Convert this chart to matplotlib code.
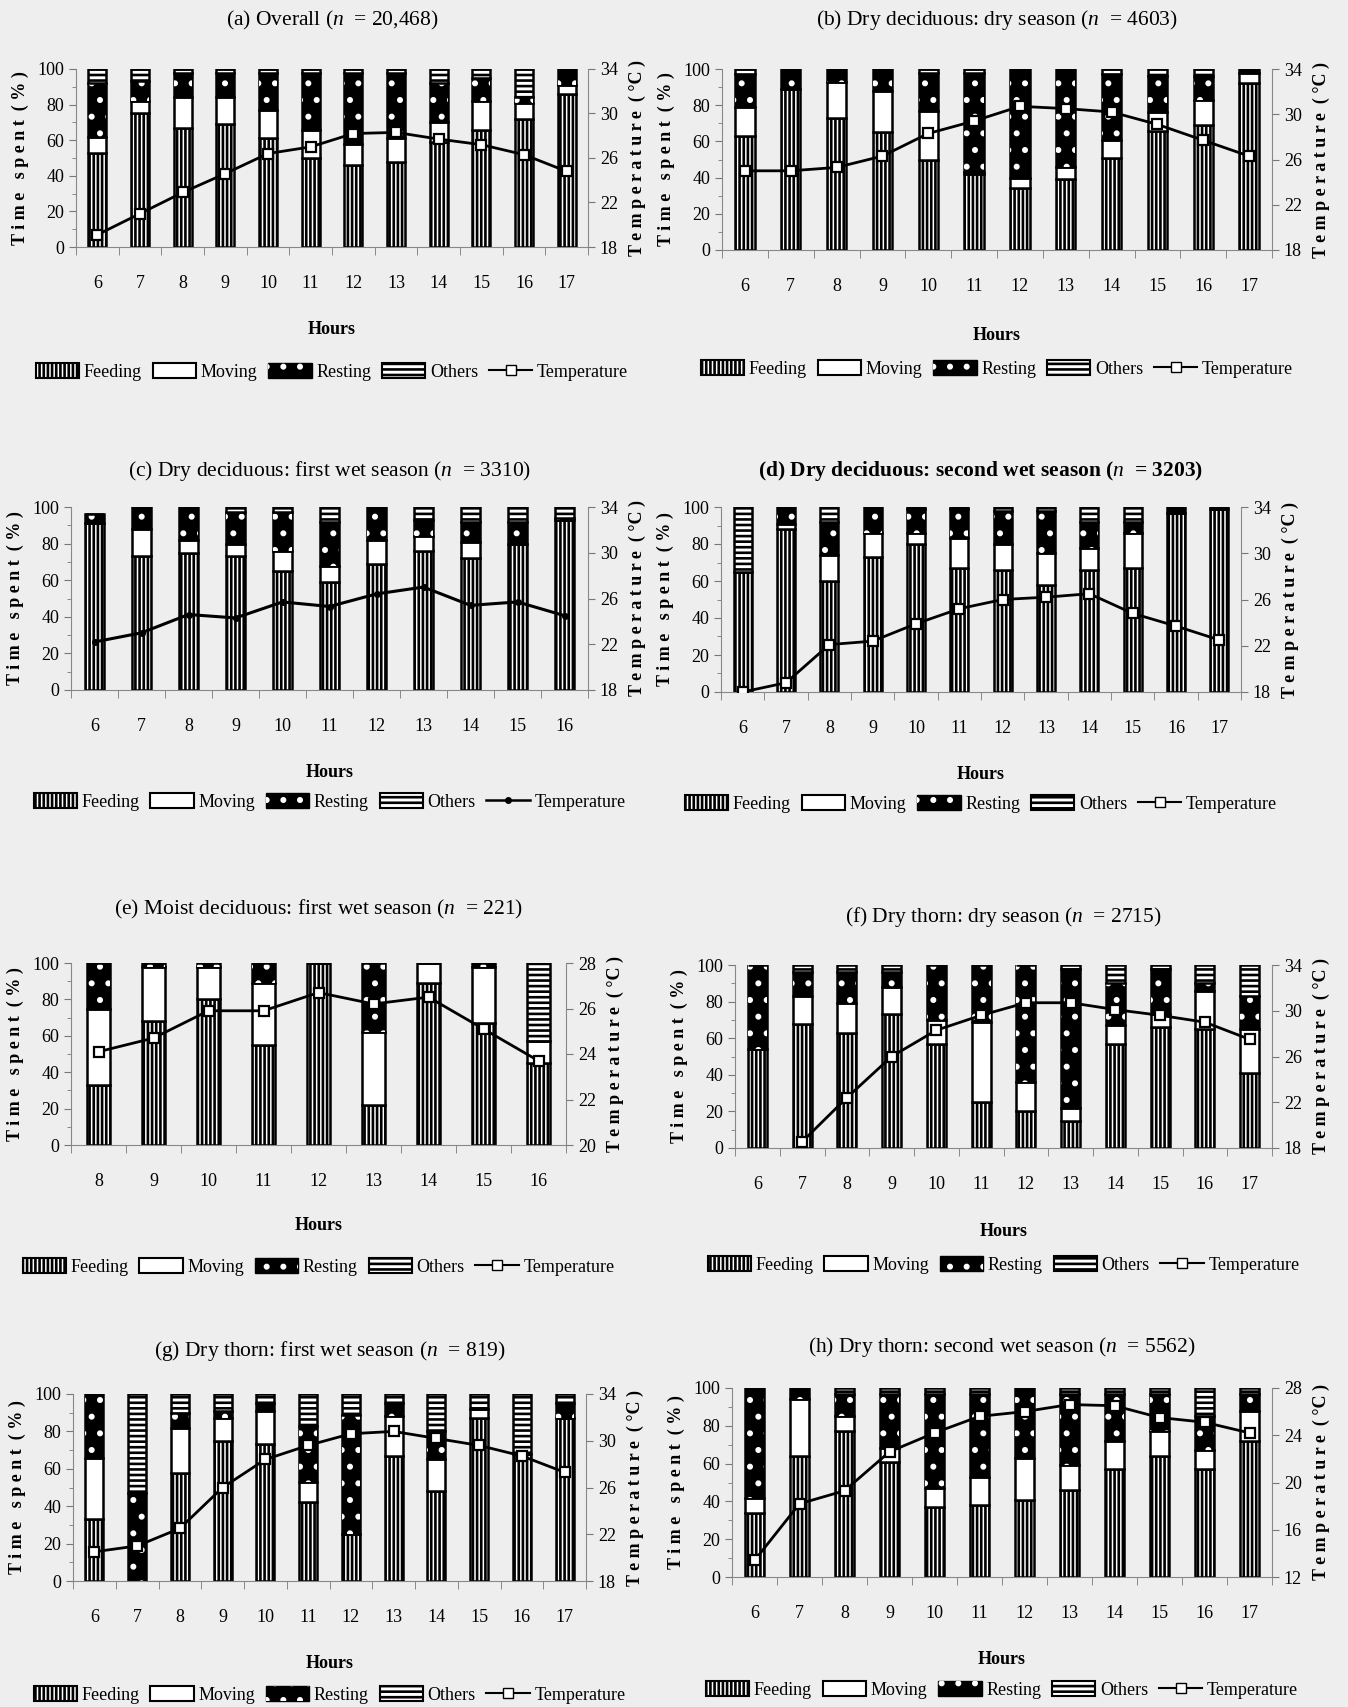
import numpy as np
import matplotlib
matplotlib.use('Agg')
import matplotlib.pyplot as plt
from matplotlib.patches import Patch
from matplotlib.lines import Line2D

plt.rcParams['font.family'] = ['Liberation Serif', 'DejaVu Serif']
plt.rcParams['mathtext.fontset'] = 'custom'
plt.rcParams['mathtext.it'] = 'Liberation Serif:italic'
plt.rcParams['mathtext.rm'] = 'Liberation Serif'
plt.rcParams['hatch.linewidth'] = 1.9

# ---- data (percent of time; temperature in deg C) ----
a_hours = [6, 7, 8, 9, 10, 11, 12, 13, 14, 15, 16, 17]
a_feed = [53, 75, 67, 69, 61, 50, 46, 48, 59, 66, 72, 86]
a_move = [9, 7, 17, 15, 16, 16, 12, 13, 11, 16, 9, 5]
a_rest = [30, 11, 14, 14, 21, 32, 40, 37, 22, 13, 3, 9]
a_other = [8, 7, 2, 2, 2, 2, 2, 2, 8, 5, 16, 0]
a_temp = [19.1, 21.0, 22.9, 24.6, 26.4, 27.0, 28.2, 28.3, 27.7, 27.2, 26.3, 24.8]

b_hours = [6, 7, 8, 9, 10, 11, 12, 13, 14, 15, 16, 17]
b_feed = [63, 89, 73, 65, 50, 42, 34, 39, 51, 66, 69, 92]
b_move = [16, 0, 20, 23, 27, 1, 6, 7, 10, 10, 14, 6]
b_rest = [18, 11, 7, 12, 21, 55, 60, 54, 36, 20, 13, 2]
b_other = [3, 0, 0, 0, 2, 2, 0, 0, 3, 4, 4, 0]
b_temp = [25.0, 25.0, 25.3, 26.3, 28.3, 29.4, 30.7, 30.5, 30.2, 29.1, 27.7, 26.3]

c_hours = [6, 7, 8, 9, 10, 11, 12, 13, 14, 15, 16]
c_feed = [91, 73, 75, 73, 65, 59, 69, 76, 72, 80, 93]
c_move = [0, 15, 7, 7, 11, 9, 13, 8, 9, 0, 0]
c_rest = [5, 12, 18, 17, 21, 24, 18, 9, 11, 12, 1]
c_other = [0, 0, 0, 3, 3, 8, 0, 7, 8, 8, 6]
c_temp = [22.2, 23.0, 24.6, 24.3, 25.7, 25.3, 26.4, 27.0, 25.4, 25.7, 24.5]

d_hours = [6, 7, 8, 9, 10, 11, 12, 13, 14, 15, 16, 17]
d_feed = [65, 88, 60, 73, 80, 67, 66, 58, 66, 67, 97, 99]
d_move = [0, 3, 14, 13, 6, 16, 14, 17, 12, 19, 0, 0]
d_rest = [0, 9, 18, 14, 13, 16, 18, 23, 14, 6, 3, 1]
d_other = [35, 0, 8, 0, 1, 1, 2, 2, 8, 8, 0, 0]
d_temp = [18.0, 18.8, 22.1, 22.4, 23.9, 25.2, 26.0, 26.2, 26.5, 24.8, 23.7, 22.5]

e_hours = [8, 9, 10, 11, 12, 13, 14, 15, 16]
e_feed = [33, 68, 80, 55, 100, 22, 89, 67, 45]
e_move = [42, 30, 18, 34, 0, 40, 11, 31, 12]
e_rest = [25, 2, 2, 11, 0, 38, 0, 2, 0]
e_other = [0, 0, 0, 0, 0, 0, 0, 0, 43]
e_temp = [24.1, 24.7, 25.9, 25.9, 26.7, 26.2, 26.5, 25.1, 23.7]

f_hours = [6, 7, 8, 9, 10, 11, 12, 13, 14, 15, 16, 17]
f_feed = [54, 68, 63, 73, 57, 25, 20, 15, 57, 66, 65, 41]
f_move = [0, 15, 16, 15, 13, 44, 16, 7, 10, 7, 21, 24]
f_rest = [46, 13, 17, 8, 30, 31, 64, 76, 23, 25, 4, 18]
f_other = [0, 4, 4, 4, 0, 0, 0, 2, 10, 2, 10, 17]
f_temp = [np.nan, 18.55, 22.4, 26.0, 28.3, 29.6, 30.7, 30.7, 30.1, 29.6, 29.0, 27.5]

g_hours = [6, 7, 8, 9, 10, 11, 12, 13, 14, 15, 16, 17]
g_feed = [33, 0, 58, 75, 73, 42, 25, 67, 48, 87, 68, 87]
g_move = [33, 0, 24, 12, 18, 11, 0, 21, 17, 5, 0, 0]
g_rest = [34, 47, 8, 4, 4, 30, 64, 7, 15, 0, 0, 8]
g_other = [0, 53, 10, 9, 5, 17, 11, 5, 20, 8, 32, 5]
g_temp = [20.5, 21.0, 22.5, 26.0, 28.4, 29.6, 30.6, 30.8, 30.2, 29.6, 28.7, 27.3]

h_hours = [6, 7, 8, 9, 10, 11, 12, 13, 14, 15, 16, 17]
h_feed = [34, 64, 77, 61, 37, 38, 41, 46, 57, 64, 57, 72]
h_move = [8, 30, 8, 7, 10, 15, 22, 13, 15, 13, 10, 16]
h_rest = [58, 6, 12, 29, 50, 44, 37, 38, 25, 20, 18, 9]
h_other = [0, 0, 3, 3, 3, 3, 0, 3, 3, 3, 15, 3]
h_temp = [13.4, 18.2, 19.3, 22.6, 24.2, 25.6, 26.0, 26.6, 26.5, 25.5, 25.1, 24.2]

titles = [
    '(a) Overall ($n$  = 20,468)',
    '(b) Dry deciduous: dry season ($n$  = 4603)',
    '(c) Dry deciduous: first wet season ($n$  = 3310)',
    '(d) Dry deciduous: second wet season ($n$  = 3203)',
    '(e) Moist deciduous: first wet season ($n$  = 221)',
    '(f) Dry thorn: dry season ($n$  = 2715)',
    '(g) Dry thorn: first wet season ($n$  = 819)',
    '(h) Dry thorn: second wet season ($n$  = 5562)',
]

# pixel layout: left, right, top, bottom, title y, hours y, legend y
W, H = 1348, 1707
boxes = [
    (76, 588, 69, 247, 20, 330, 372),
    (722, 1272, 69, 250, 20, 335, 369),
    (71, 588, 507, 690, 471, 773, 802),
    (721, 1241, 507, 692, 471, 775, 804),
    (71, 566, 963, 1145, 909, 1225, 1267),
    (735, 1272, 965, 1148, 917, 1231, 1265),
    (73, 586, 1394, 1581, 1351, 1663, 1695),
    (732, 1272, 1388, 1577, 1347, 1660, 1690),
]

panels = [
    (a_hours, a_feed, a_move, a_rest, a_other, a_temp, (18, 34, 4)),
    (b_hours, b_feed, b_move, b_rest, b_other, b_temp, (18, 34, 4)),
    (c_hours, c_feed, c_move, c_rest, c_other, c_temp, (18, 34, 4)),
    (d_hours, d_feed, d_move, d_rest, d_other, d_temp, (18, 34, 4)),
    (e_hours, e_feed, e_move, e_rest, e_other, e_temp, (20, 28, 2)),
    (f_hours, f_feed, f_move, f_rest, f_other, f_temp, (18, 34, 4)),
    (g_hours, g_feed, g_move, g_rest, g_other, g_temp, (18, 34, 4)),
    (h_hours, h_feed, h_move, h_rest, h_other, h_temp, (12, 28, 4)),
]

fig = plt.figure(figsize=(W / 100, H / 100), dpi=100, facecolor='#eeeeee')

for i, (title, box, panel) in enumerate(zip(titles, boxes, panels)):
    L, R, T, B, ty, hy, ly = box
    hours, feed, move, rest, other, temp, trange = panel
    feed = np.array(feed, float)
    move = np.array(move, float)
    rest = np.array(rest, float)
    other = np.array(other, float)
    dot = (i == 2)

    ax = fig.add_axes([L / W, 1 - B / H, (R - L) / W, (B - T) / H])
    ax.set_facecolor('none')
    x = np.arange(len(hours))
    w = 0.42
    ax.bar(x, feed, w, color='white', edgecolor='black', hatch='||||', lw=1.8)
    ax.bar(x, move, w, bottom=feed, color='white', edgecolor='black', lw=1.8)
    b2 = feed + move
    ax.bar(x, rest, w, bottom=b2, color='black', edgecolor='black', lw=1.8)
    ax.bar(x, rest, w, bottom=b2, color='none', edgecolor='white', hatch='.', lw=0)
    b3 = b2 + rest
    ax.bar(x, other, w, bottom=b3, color='white', edgecolor='black', hatch='---', lw=1.8)

    ax.set_xlim(-0.5, len(hours) - 0.5)
    ax.set_ylim(0, 100)
    ax.set_xticks(x)
    ax.set_xticklabels([str(h) for h in hours], fontsize=13)
    ax.set_xticks(np.arange(-0.5, len(hours)), minor=True)
    ax.tick_params(axis='x', which='major', length=0, pad=20)
    ax.tick_params(axis='x', which='minor', length=6, direction='out', color='#777777')
    ax.set_yticks(np.arange(0, 101, 20))
    ax.set_yticks(np.arange(0, 101, 10), minor=True)
    ax.tick_params(axis='y', which='major', labelsize=13, length=5, color='#777777')
    ax.tick_params(axis='y', which='minor', length=3, color='#777777')
    ax.set_ylabel('T i m e   s p e n t  ( % )', fontsize=13, fontweight='bold', labelpad=6)
    for s in ['top', 'right']:
        ax.spines[s].set_visible(False)
    for s in ['left', 'bottom']:
        ax.spines[s].set_color('#888888')

    ax2 = ax.twinx()
    if dot:
        ax2.plot(x, temp, color='black', lw=2.2, marker='o', ms=4)
    else:
        ax2.plot(x, temp, color='black', lw=2.0, marker='s', ms=7.5,
                 mfc='white', mec='black', mew=1.6)
    t0, t1, ts = trange
    ax2.set_ylim(t0, t1)
    ax2.set_yticks(np.arange(t0, t1 + 0.1, ts))
    ax2.tick_params(axis='y', labelsize=13, length=5, color='#777777')
    ax2.set_ylabel('T e m p e r a t u r e  ( °C )', fontsize=13, fontweight='bold', labelpad=8)
    for s in ['top', 'left', 'bottom']:
        ax2.spines[s].set_visible(False)
    ax2.spines['right'].set_color('#888888')

    cx = (L + R) / 2 / W
    fig.text(cx, 1 - ty / H, title, ha='center', va='center', fontsize=15.5,
             fontweight='bold' if i == 3 else 'normal')
    fig.text(cx, 1 - hy / H, 'Hours', ha='center', va='center', fontsize=13, fontweight='bold')

    feed_h = Patch(facecolor='white', edgecolor='black', hatch='||||', lw=1.5)
    move_h = Patch(facecolor='white', edgecolor='black', lw=1.5)
    rest_h = (Patch(facecolor='black', edgecolor='black'),
              Patch(facecolor='none', edgecolor='white', hatch='.', lw=0))
    other_h = Patch(facecolor='white', edgecolor='black', hatch='---', lw=1.5)
    if dot:
        temp_h = Line2D([], [], color='black', lw=1.8, marker='o', ms=4)
    else:
        temp_h = Line2D([], [], color='black', lw=1.5, marker='s', ms=7,
                        mfc='white', mec='black')
    ax.legend([feed_h, move_h, rest_h, other_h, temp_h],
              ['Feeding', 'Moving', 'Resting', 'Others', 'Temperature'],
              loc='center', bbox_to_anchor=(cx, 1 - ly / H), bbox_transform=fig.transFigure,
              ncol=5, frameon=False, fontsize=13, handlelength=2.4, handleheight=0.9,
              handletextpad=0.25, columnspacing=0.6)

fig.savefig('out.png', dpi=100, facecolor=fig.get_facecolor())
